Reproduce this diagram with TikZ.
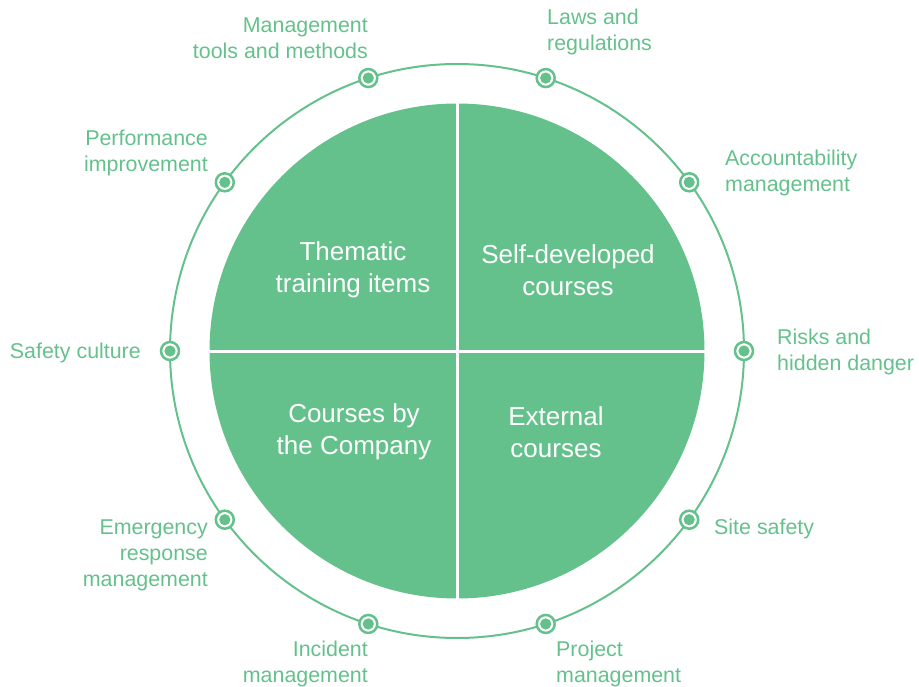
\documentclass[tikz,border=0pt]{standalone}
\usepackage{fontspec}
\setmainfont{Liberation Sans}
\usetikzlibrary{calc}
\definecolor{leaf}{HTML}{64C18C}
\tikzset{
  marker/.style={circle, draw=leaf, line width=2.5pt, fill=white, minimum size=18pt, inner sep=0pt,
    path picture={\fill[leaf] (path picture bounding box.center) circle (5.6pt);}},
  quadtext/.style={text=white, align=center, inner sep=0pt, font=\fontsize{26}{32}\selectfont},
  lbl/.style={text=leaf, inner sep=0pt, font=\fontsize{21.4}{26}\selectfont},
  lblL/.style={lbl, align=left, anchor=west},
  lblR/.style={lbl, align=right, anchor=east},
}
\begin{document}
\begin{tikzpicture}[x=1pt, y=-1pt]
\useasboundingbox (0,0) rectangle (919,687);
\coordinate (c) at (457,351);
% outer ring
\draw[leaf, line width=2pt] (c) circle (287);
% inner disc
\node[circle, fill=leaf, minimum size=495pt, inner sep=0pt] (disc) at (c) {};
\draw[white, line width=3pt] (disc.north) -- (disc.south);
\draw[white, line width=3pt] (disc.west) -- (disc.east);
% quadrant texts
\node[quadtext] (q1) at (353,270) {Thematic\\training items};
\node[quadtext] (q2) at (568,270) {Self-developed\\courses};
\node[quadtext] (q3) at (354,432) {Courses by\\the Company};
\node[quadtext] (q4) at (556,432) {External\\courses};
% markers
\foreach \a [count=\i] in {108,72,36,0,-36,-72,-108,-144,180,144}
  \node[marker] (m\i) at ($(c)+(\a:287)$) {};
% labels
\node[lblR] (l1) at (368,38) {Management\\tools and methods};
\node[lblL] (l2) at (547,32) {Laws and\\regulations};
\node[lblL] (l3) at (725,173) {Accountability\\management};
\node[lblL] (l4) at (777,352) {Risks and\\hidden danger};
\node[lblL] (l5) at (714,529) {Site safety};
\node[lblL] (l6) at (556,664) {Project\\management};
\node[lblR] (l7) at (368,664) {Incident\\management};
\node[lblR] (l8) at (208,555) {Emergency\\response\\management};
\node[lblR] (l9) at (141,353) {Safety culture};
\node[lblR] (l10) at (208,153) {Performance\\improvement};
\end{tikzpicture}
\end{document}
